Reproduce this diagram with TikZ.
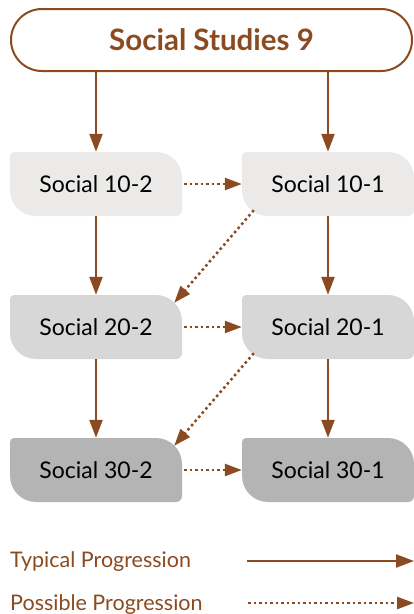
\documentclass[tikz,border=0pt]{standalone}
\usepackage{fontspec}
\setmainfont{Lato}
\usetikzlibrary{arrows.meta}

\definecolor{brownline}{RGB}{139,74,32}
\definecolor{gradeA}{RGB}{235,234,233}
\definecolor{gradeB}{RGB}{216,215,216}
\definecolor{gradeC}{RGB}{181,180,181}

\tikzset{
	course/.style={minimum width=172pt, minimum height=64pt, inner sep=0pt,
		font=\fontsize{23}{26}\selectfont,
		path picture={\fill[#1] ([yshift=26pt]path picture bounding box.south west)
			-- ([yshift=-4pt]path picture bounding box.north west) arc[start angle=180, end angle=90, radius=4pt]
			-- ([xshift=-26pt]path picture bounding box.north east) arc[start angle=90, end angle=0, radius=26pt]
			-- ([yshift=6pt]path picture bounding box.south east) arc[start angle=0, end angle=-90, radius=6pt]
			-- ([xshift=26pt]path picture bounding box.south west) arc[start angle=270, end angle=180, radius=26pt]
			-- cycle;}},
	typical/.style={brownline, line width=2.3pt, -{Triangle[length=18pt, width=13pt]}},
	possible/.style={brownline, line width=2.5pt, dash pattern=on 2.5pt off 3pt, -{Triangle[length=17pt, width=12pt]}},
	legend/.style={anchor=base west, text=brownline, inner sep=0pt, font=\fontsize{21.5}{24}\selectfont}
}

\begin{document}
\begin{tikzpicture}[x=1pt, y=1pt]
	%\draw[help lines] (0,0) grid[step=20pt] (414,-614);
	\useasboundingbox (0,0) rectangle (414,-614);
	\node[draw=brownline, line width=2pt, rounded corners=31pt, minimum width=401pt, minimum height=62pt,
		text=brownline, font=\bfseries\fontsize{29.5}{33}\selectfont] (ss9) at (211.5,-40) {Social Studies 9};
	\node[course=gradeA] (s102) at (96,-184) {Social 10-2};
	\node[course=gradeA] (s101) at (328,-184) {Social 10-1};
	\node[course=gradeB] (s202) at (96,-327) {Social 20-2};
	\node[course=gradeB] (s201) at (328,-327) {Social 20-1};
	\node[course=gradeC] (s302) at (96,-470) {Social 30-2};
	\node[course=gradeC] (s301) at (328,-470) {Social 30-1};
	\draw[typical] (ss9.south -| s102.north) -- (s102.north);
	\draw[typical] (ss9.south -| s101.north) -- (s101.north);
	\draw[typical] (s102) -- (s202);
	\draw[typical] (s101) -- (s201);
	\draw[typical] (s202) -- (s302);
	\draw[typical] (s201) -- (s301);
	\draw[possible, shorten <=2pt] (s102) -- (s101);
	\draw[possible, shorten <=2pt] (s202) -- (s201);
	\draw[possible, shorten <=2pt] (s302) -- (s301);
	\draw[possible] ([shift={(12,6)}]s101.south west) -- ([shift={(-8,-8)}]s202.north east);
	\draw[possible] ([shift={(12,6)}]s201.south west) -- ([shift={(-8,-8)}]s302.north east);
	% legend
	\node[legend] (typ) at (10,-567) {Typical Progression};
	\node[legend] (pos) at (10,-610) {Possible Progression};
	\coordinate (typA) at (247,-561);
	\coordinate (typB) at (414,-561);
	\coordinate (posA) at (248,-603);
	\coordinate (posB) at (414,-603);
	\draw[typical] (typA) -- (typB);
	\draw[possible] (posA) -- (posB);
\end{tikzpicture}
\end{document}
